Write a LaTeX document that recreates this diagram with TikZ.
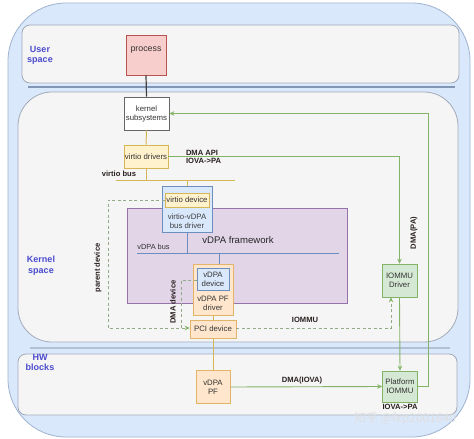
\documentclass[tikz,border=0pt]{standalone}
\usepackage{fontspec}
\setmainfont{Liberation Sans}
\newfontfamily\cjk{Noto Sans CJK SC}
\usetikzlibrary{arrows.meta}
\definecolor{outerfill}{HTML}{DAE8FC}
\definecolor{outerdraw}{HTML}{9FB3CF}
\definecolor{regfill}{HTML}{F5F5F5}
\definecolor{regdraw}{HTML}{A3ABB8}
\definecolor{seplin}{HTML}{8196B5}
\definecolor{lblblue}{HTML}{4A4AD0}
\definecolor{redfill}{HTML}{F8CECC}
\definecolor{reddraw}{HTML}{B85450}
\definecolor{yelfill}{HTML}{FFF2CC}
\definecolor{yeldraw}{HTML}{D6B656}
\definecolor{bluefill}{HTML}{DAE8FC}
\definecolor{bluedraw}{HTML}{6C8EBF}
\definecolor{orfill}{HTML}{FFE6CC}
\definecolor{ordraw}{HTML}{E3B36A}
\definecolor{purfill}{HTML}{E1D5E7}
\definecolor{purdraw}{HTML}{9673A6}
\definecolor{grfill}{HTML}{D5E8D4}
\definecolor{grdraw}{HTML}{82B366}
\definecolor{dashcol}{HTML}{93AA88}
\definecolor{txtdark}{HTML}{2A2020}
\tikzset{
  region/.style={fill=regfill,draw=regdraw,line width=0.8pt},
  seprule/.style={draw=seplin,line width=1.3pt},
  side/.style={text=lblblue,font=\fontsize{9}{10.5}\selectfont\bfseries,align=center},
  blk/.style={draw,line width=0.6pt,inner sep=0pt,align=center,font=\fontsize{7.8}{9}\selectfont,text=black!80},
  yelbox/.style={blk,fill=yelfill,draw=yeldraw},
  orbox/.style={blk,fill=orfill,draw=ordraw},
  bluebox/.style={blk,fill=bluefill,draw=bluedraw},
  grbox/.style={blk,fill=grfill,draw=grdraw},
  plain/.style={inner sep=0pt,align=center,font=\fontsize{7.8}{9}\selectfont,text=black!80},
  boldlbl/.style={inner sep=0pt,align=left,font=\fontsize{7.6}{8.5}\selectfont\bfseries,text=txtdark},
  yline/.style={draw=yeldraw,line width=1pt},
  bline/.style={draw=bluedraw,line width=1pt},
  gline/.style={draw=grdraw,line width=0.9pt},
  garrow/.style={gline,-{Stealth[length=5pt,width=4.5pt]}},
  dline/.style={draw=dashcol,line width=0.9pt,dash pattern=on 3pt off 2.5pt},
  darrow/.style={dline,-{Stealth[length=5pt,width=4.5pt,color=grdraw,fill=grdraw]}}
}
\begin{document}
\begin{tikzpicture}[x=1pt,y=-1pt]
\useasboundingbox (0,0) rectangle (474,439);
\fill[white] (0,0) rectangle (474,439);
% outer container
\draw[fill=outerfill,draw=outerdraw,line width=0.8pt,rounded corners=58pt] (8,3) rectangle (470,437);
% regions
\draw[region,rounded corners=8pt] (22,25) rectangle (459,83);
\draw[seprule] (28,87) -- (455,87);
\draw[region,rounded corners=34pt] (18,92) rectangle (458,342);
\draw[seprule,draw=seplin!60] (30,348) -- (450,348);
\draw[region,rounded corners=8pt] (18,354) rectangle (457,415);
% side labels
\node[side] (lus) at (40,55.5) {User\\space};
\node[side] (lks) at (41,265.5) {Kernel\\space};
\node[side] (lhw) at (40,362.5) {HW\\blocks};
% vDPA framework
\node[blk,fill=purfill,draw=purdraw,minimum width=220pt,minimum height=95pt] (fw) at (237,255.5) {};
\node[inner sep=0pt,font=\fontsize{9.6}{12}\selectfont,text=black!85] (fwt) at (238,240) {vDPA framework};
% process
\node[blk,fill=redfill,draw=reddraw,minimum width=40pt,minimum height=40pt] (proc) at (146,55) {};
\node[plain,font=\fontsize{8.8}{10}\selectfont] (proct) at (146,50.5) {process};
% kernel subsystems
\node[blk,fill=white,draw=black!60,minimum width=45pt,minimum height=33pt] (ks) at (146.5,113.5) {kernel\\subsystems};
\node[yelbox,minimum width=44pt,minimum height=23pt] (vd) at (146,156.5) {virtio drivers};
\draw[draw=black!75,line width=1.2pt] (proc.south) -- (ks.north);
\draw[yline] (ks.south) -- (vd.north);
% virtio bus
\coordinate (vbl) at (116,180);
\coordinate (vbr) at (235,180);
\draw[yline] (vbl) -- (vbr);
\coordinate (vbd) at (146,180);
\draw[yline] (vd.south) -- (vbd);
\node[boldlbl] (vbt) at (119,174) {virtio bus};
% virtio-vDPA bus driver
\node[bluebox,minimum width=50pt,minimum height=46pt] (vv) at (187,209) {};
\node[yelbox,minimum width=44pt,minimum height=14pt] (vdev) at (187,200) {virtio device};
\node[plain,text=black!75] (vvt) at (187,221.5) {virtio-vDPA\\bus driver};
\coordinate (vbt2) at (187,180);
\draw[yline] (vbt2) -- (vv.north);
% vDPA bus
\coordinate (dbl) at (137,253);
\coordinate (dbr) at (339,253);
\draw[bline] (dbl) -- (dbr);
\node[plain,font=\fontsize{7.4}{8.5}\selectfont] (dbt) at (153.5,246.5) {vDPA bus};
\coordinate (vvb) at (187,253);
\draw[bline] (vv.south) -- (vvb);
% vDPA PF driver
\node[orbox,minimum width=40pt,minimum height=51pt] (pfd) at (213,289.5) {};
\node[bluebox,minimum width=32pt,minimum height=22pt] (vdd) at (213,279) {vDPA\\device};
\node[plain] (pfdt) at (213,303.5) {vDPA PF\\driver};
\coordinate (bus2) at (219,253);
\coordinate (pft) at (219,264);
\draw[bline] (bus2) -- (pft);
% PCI device
\node[orbox,minimum width=46pt,minimum height=18pt] (pci) at (213,329) {PCI device};
\draw[yline] (pfd.south) -- (pci.north);
% HW vDPA PF
\node[orbox,minimum width=34pt,minimum height=33pt] (hwpf) at (213,387) {vDPA\\PF};
\draw[yline] (pci.south) -- (hwpf.north);
% IOMMU
\node[grbox,minimum width=35pt,minimum height=33pt] (iod) at (399.5,280.5) {IOMMU\\Driver};
\node[grbox,minimum width=35pt,minimum height=31pt] (pio) at (400,386.5) {Platform\\IOMMU};
\node[boldlbl] (iovapa) at (400,406.5) {IOVA->PA};
% green connectors
\coordinate (g1a) at (428,386.5);
\coordinate (g1b) at (428,113.5);
\draw[garrow] (pio.east) -- (g1a) -- (g1b) -- (ks.east);
\node[boldlbl,rotate=90] (dmapa) at (414,233) {DMA(PA)};
\coordinate (g2a) at (399.5,156.5);
\draw[garrow] (vd.east) -- (g2a) -- (iod.north);
\node[boldlbl] (dmaapi) at (203.5,157) {DMA API\\IOVA->PA};
\draw[garrow] (iod.south) -- (pio.north);
\draw[garrow] (hwpf.east) -- (pio.west);
\node[boldlbl] (dmaiova) at (302,381) {DMA(IOVA)};
% dashed connectors
\coordinate (p1) at (108,200);
\coordinate (p2) at (108,328);
\draw[darrow] (vdev.west) -- (p1) -- (p2) -- (pci.west |- p2);
\node[boldlbl,rotate=90] (pdev) at (98,268) {parent device};
\coordinate (d1) at (181,280.5);
\coordinate (d2) at (181,328);
\draw[dline] (vdd.west |- d1) -- (d1) -- (d2);
\node[boldlbl,rotate=90] (ddev) at (173,302) {DMA device};
\coordinate (i1) at (391,328);
\draw[darrow] (pci.east |- i1) -- (i1) -- (i1 |- iod.south);
\node[boldlbl] (iommul) at (305,320) {IOMMU};
% watermark
\node[inner sep=0pt,font=\cjk\fontsize{12}{14}\selectfont,text=white!75!gray] (wm) at (405,419) {知乎 @fxp2001640};
\end{tikzpicture}
\end{document}
